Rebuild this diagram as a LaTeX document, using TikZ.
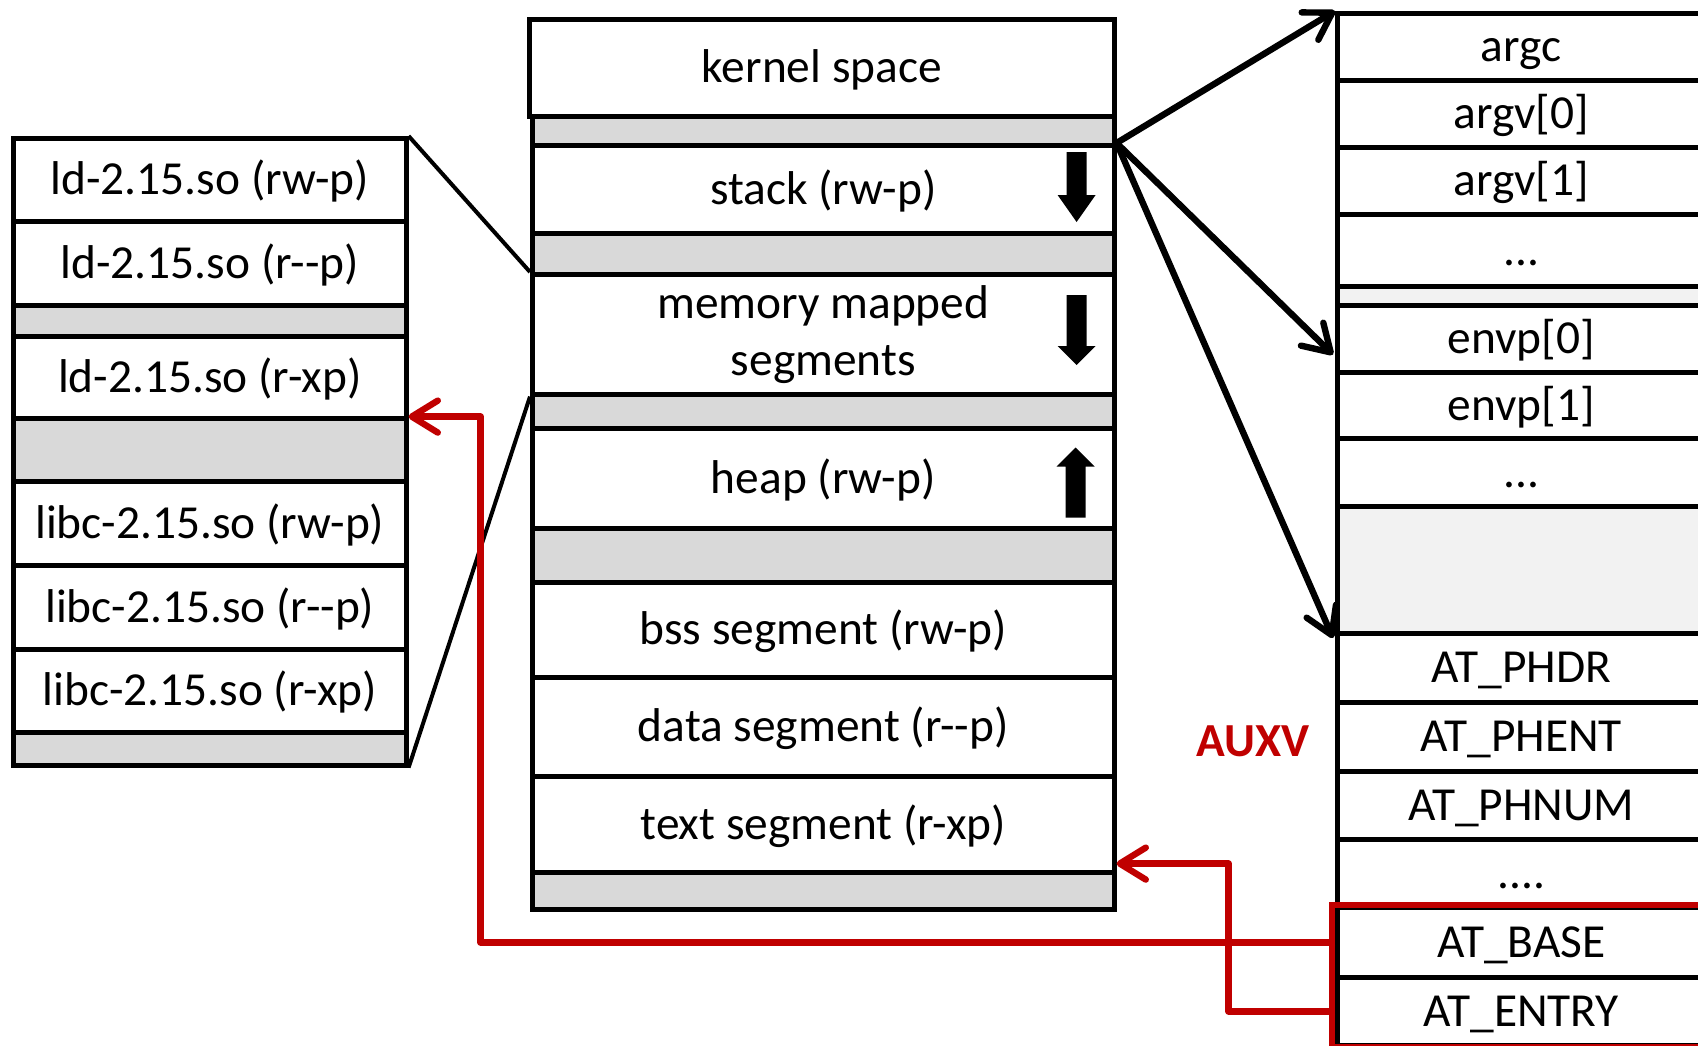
\documentclass[tikz,border=0pt]{standalone}
\usepackage{fontspec}
\setmainfont{Carlito}
\usetikzlibrary{positioning,calc,arrows.meta}
\definecolor{gapgray}{HTML}{D9D9D9}
\definecolor{gaplight}{HTML}{F2F2F2}
\definecolor{auxred}{HTML}{C00000}
\tikzset{blockarrow/.pic={\fill (-10,0) -- (10,0) -- (10,70-#1) -- (19,70-#1) -- (0,70) -- (-19,70-#1) -- (-10,70-#1) -- cycle;}}

\begin{document}
\begin{tikzpicture}[x=0.5pt,y=-0.5pt]
\tikzstyle{every node}=[font=\fontsize{23.7}{28.5}\selectfont]
\tikzstyle{row}=[draw,line width=2.3pt,inner sep=0pt,anchor=north west]
\tikzstyle{txt}=[fill=white,text height=15.5pt,text depth=0.5pt]
\tikzstyle{two}=[fill=white,align=center]
\tikzstyle{gap}=[fill=gapgray]
\tikzstyle{gapl}=[fill=gaplight]
\tikzstyle{link}=[line width=3.2pt,line cap=round,-{Straight Barb[length=13pt,width=16pt,round]}]
\tikzstyle{redlink}=[auxred,line width=3.2pt,line join=round,-{Straight Barb[length=13pt,width=16pt,round]}]
\useasboundingbox (0,0) rectangle (1698,1045);
\clip (0,0) rectangle (1698,1045);
\foreach \t/\b/\k/\s [count=\i] in {136/219/txt/ld-2.15.so (rw-p),219/303/txt/ld-2.15.so (r-{}-p),303/334/gap/,334/416/txt/ld-2.15.so (r-xp),416/479/gap/,479/563/txt/libc-2.15.so (rw-p),563/647/txt/libc-2.15.so (r-{}-p),647/730/txt/libc-2.15.so (r-xp),730/763/gap/}
  \node[row,\k,minimum width=196.5pt,minimum height={(\b-\t)*0.5pt}] (L\i) at (11,\t) {\s};
\node[row,txt,minimum width=292.5pt,minimum height=48.5pt] (M1) at (527,17) {kernel space};
\foreach \t/\b/\k/\s [count=\i from 2] in {114/143/gap/,143/231/txt/stack (rw-p),231/272/gap/,272/392/two/memory mapped\\segments,392/426/gap/,426/526/txt/heap (rw-p),526/580/gap/,580/675/txt/bss segment (rw-p),675/774/txt/data segment (r-{}-p),774/870/txt/text segment (r-xp),870/907/gap/}
  \node[row,\k,minimum width=291pt,minimum height={(\b-\t)*0.5pt}] (M\i) at (530,\t) {\s};
\foreach \t/\b/\k/\s [count=\i] in {11/78/txt/argc,78/145/txt/argv[0],145/212/txt/argv[1],212/284/txt/{.}{.}{.},284/303/gapl/,303/370/txt/envp[0],370/436/txt/envp[1],436/504/txt/{.}{.}{.},504/631/gapl/,631/700/txt/AT\_PHDR,700/769/txt/AT\_PHENT,769/837/txt/AT\_PHNUM,837/905/txt/{.}{.}{.}{.},905/975/txt/AT\_BASE,975/1043/txt/AT\_ENTRY}
  \node[row,\k,minimum width=184pt,minimum height={(\b-\t)*0.5pt}] (R\i) at (1335,\t) {\s};
\pic at ($(M3.north east)+(-40,9)$) {blockarrow=27};
\pic at ($(M5.north east)+(-40,23)$) {blockarrow=19};
\pic[rotate=180] at ($(M7.south east)+(-41,-13)$) {blockarrow=19};
\draw[line width=2pt] (L1.north east) -- (M5.north west);
\draw[line width=2pt] (L9.south east) -- (M5.south west);
\draw[link] (M3.north east) -- (R1.north west);
\draw[link] (M3.north east) -- ($(R6.south west)+(-2,-20)$);
\draw[link] (M3.north east) -- ($(R10.north west)+(-2,7)$);
\node[text=auxred,font=\fontsize{23.7}{28.5}\selectfont\bfseries,inner sep=0pt,left=12.5pt of R11.west,yshift=-2pt] (auxv) {AUXV};
\draw[auxred,line width=3.2pt] ($(R14.north west)+(-3,0)$) rectangle ($(R15.south east)+(5,0)$);
\draw[redlink] (R14.west) -| ($(L4.south east)+(72,-4)$) -- ($(L4.south east)+(0,-4)$);
\draw[redlink] (R15.west) -| ($(M11.south east)+(112,-11)$) -- ($(M11.south east)+(0,-11)$);
\end{tikzpicture}
\end{document}
